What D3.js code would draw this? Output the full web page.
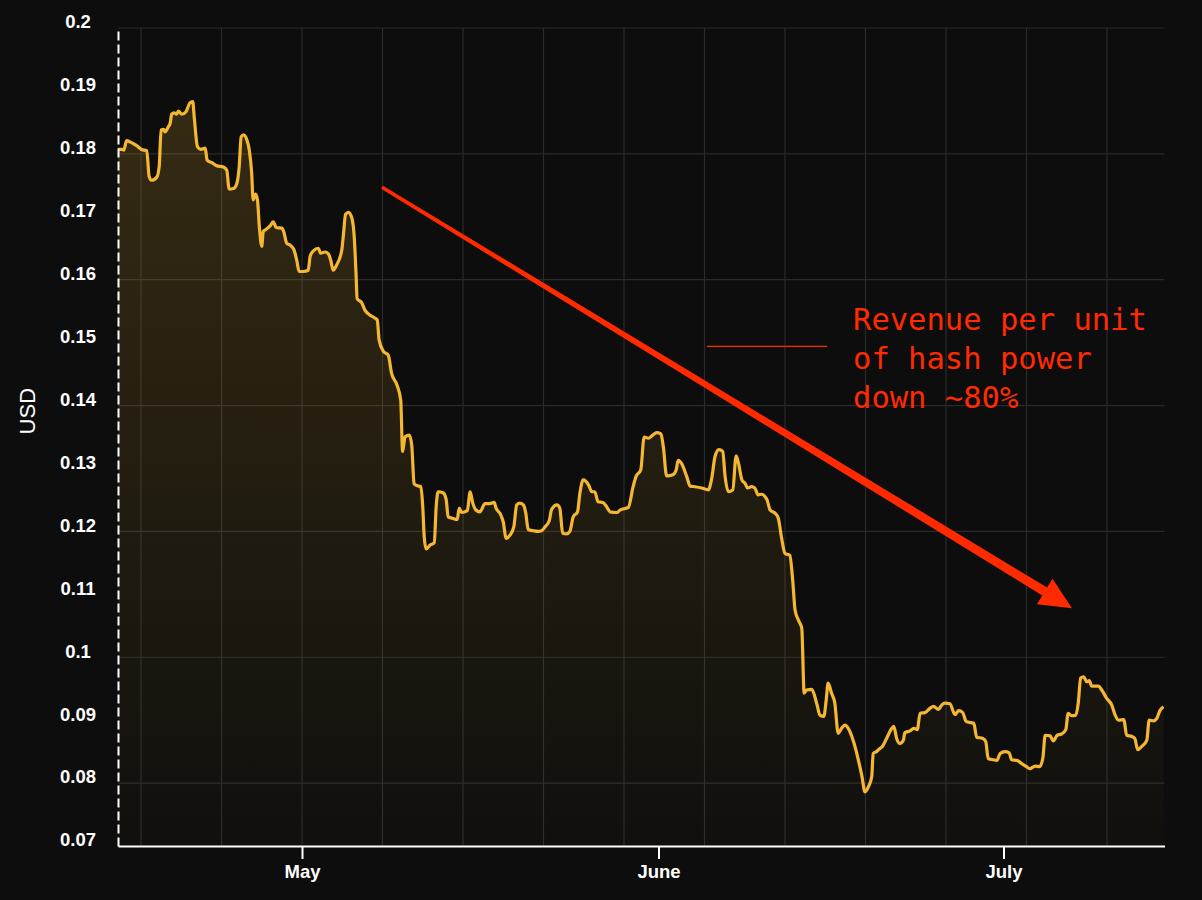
<!DOCTYPE html>
<html>
<head>
<meta charset="utf-8">
<script src="https://cdn.jsdelivr.net/npm/d3@7"></script>
<style>
  html, body { margin: 0; padding: 0; background: #0d0d0d; }
  svg { display: block; }
  .axis text { fill: #fff; font-family: "Liberation Sans", Arial, sans-serif; font-size: 18.5px; font-weight: bold; }
  .axis-title { fill: #fff; font-family: "Liberation Sans", Arial, sans-serif; font-size: 22px; }
  .grid line { stroke: #2b2b2b; stroke-width: 1.2; }
  .note { fill: #ff2a00; font-family: "DejaVu Sans Mono", monospace; font-size: 30.5px; }
</style>
</head>
<body>
<div id="chart"></div>
<script>
// revenue per unit of hash power (USD), [time, value]
const hashprice = [
  ["2022-04-15T00", 0.1807], ["2022-04-15T08", 0.1807], ["2022-04-15T12", 0.1806], ["2022-04-15T18", 0.1821],
  ["2022-04-16T01", 0.1819], ["2022-04-16T15", 0.1813], ["2022-04-17T01", 0.1807], ["2022-04-17T12", 0.1805],
  ["2022-04-17T17", 0.1764], ["2022-04-17T22", 0.1758], ["2022-04-18T09", 0.1763], ["2022-04-18T14", 0.1780],
  ["2022-04-18T18", 0.1838], ["2022-04-18T23", 0.1839], ["2022-04-19T02", 0.1835], ["2022-04-19T09", 0.1843],
  ["2022-04-19T13", 0.1849], ["2022-04-19T16", 0.1863], ["2022-04-19T21", 0.1865], ["2022-04-20T02", 0.1863],
  ["2022-04-20T06", 0.1868], ["2022-04-20T13", 0.1863], ["2022-04-20T22", 0.1867], ["2022-04-21T06", 0.1881],
  ["2022-04-21T12", 0.1883], ["2022-04-21T15", 0.1859], ["2022-04-21T22", 0.1811], ["2022-04-22T05", 0.1807],
  ["2022-04-22T14", 0.1809], ["2022-04-22T18", 0.1790], ["2022-04-23T04", 0.1786], ["2022-04-23T14", 0.1781],
  ["2022-04-24T04", 0.1779], ["2022-04-24T11", 0.1774], ["2022-04-24T16", 0.1744], ["2022-04-25T01", 0.1745],
  ["2022-04-25T08", 0.1753], ["2022-04-25T13", 0.1780], ["2022-04-25T17", 0.1827], ["2022-04-25T22", 0.1830],
  ["2022-04-26T05", 0.1822], ["2022-04-26T10", 0.1806], ["2022-04-26T15", 0.1769], ["2022-04-26T18", 0.1727],
  ["2022-04-26T23", 0.1736], ["2022-04-27T03", 0.1727], ["2022-04-27T07", 0.1684], ["2022-04-27T12", 0.1653],
  ["2022-04-27T15", 0.1676], ["2022-04-27T21", 0.1680], ["2022-04-28T05", 0.1685], ["2022-04-28T12", 0.1692],
  ["2022-04-28T18", 0.1683], ["2022-04-29T06", 0.1682], ["2022-04-29T10", 0.1676], ["2022-04-29T16", 0.1658],
  ["2022-04-29T23", 0.1655], ["2022-04-30T07", 0.1648], ["2022-04-30T13", 0.1631], ["2022-04-30T18", 0.1613],
  ["2022-05-01T03", 0.1613], ["2022-05-01T13", 0.1615], ["2022-05-01T17", 0.1637], ["2022-05-02T00", 0.1646],
  ["2022-05-02T10", 0.1650], ["2022-05-02T15", 0.1642], ["2022-05-03T00", 0.1644], ["2022-05-03T07", 0.1641],
  ["2022-05-03T12", 0.1631], ["2022-05-03T17", 0.1615], ["2022-05-04T00", 0.1623], ["2022-05-04T11", 0.1647],
  ["2022-05-04T14", 0.1668], ["2022-05-04T19", 0.1704], ["2022-05-05T01", 0.1707], ["2022-05-05T08", 0.1698],
  ["2022-05-05T13", 0.1668], ["2022-05-05T17", 0.1605], ["2022-05-05T19", 0.1570], ["2022-05-06T05", 0.1563],
  ["2022-05-06T11", 0.1552], ["2022-05-06T18", 0.1546], ["2022-05-07T08", 0.1539], ["2022-05-07T13", 0.1536],
  ["2022-05-07T17", 0.1504], ["2022-05-08T02", 0.1486], ["2022-05-08T12", 0.1480], ["2022-05-08T19", 0.1451],
  ["2022-05-09T06", 0.1433], ["2022-05-09T14", 0.1409], ["2022-05-09T18", 0.1327], ["2022-05-09T23", 0.1350],
  ["2022-05-10T08", 0.1353], ["2022-05-10T13", 0.1337], ["2022-05-10T18", 0.1276], ["2022-05-10T23", 0.1273],
  ["2022-05-11T08", 0.1271], ["2022-05-11T12", 0.1239], ["2022-05-11T15", 0.1192], ["2022-05-11T19", 0.1172],
  ["2022-05-12T03", 0.1178], ["2022-05-12T12", 0.1182], ["2022-05-12T16", 0.1239], ["2022-05-12T20", 0.1263],
  ["2022-05-13T07", 0.1261], ["2022-05-13T13", 0.1250], ["2022-05-13T17", 0.1223], ["2022-05-14T02", 0.1221],
  ["2022-05-14T12", 0.1219], ["2022-05-14T16", 0.1237], ["2022-05-14T21", 0.1230], ["2022-05-15T09", 0.1233],
  ["2022-05-15T15", 0.1263], ["2022-05-15T20", 0.1246], ["2022-05-16T03", 0.1234], ["2022-05-16T11", 0.1231],
  ["2022-05-16T22", 0.1244], ["2022-05-17T08", 0.1244], ["2022-05-17T17", 0.1246], ["2022-05-17T21", 0.1237],
  ["2022-05-18T07", 0.1226], ["2022-05-18T12", 0.1215], ["2022-05-18T18", 0.1189], ["2022-05-19T02", 0.1194],
  ["2022-05-19T10", 0.1207], ["2022-05-19T16", 0.1242], ["2022-05-19T22", 0.1245], ["2022-05-20T06", 0.1242],
  ["2022-05-20T11", 0.1229], ["2022-05-20T16", 0.1203], ["2022-05-21T03", 0.1201], ["2022-05-21T13", 0.1200],
  ["2022-05-21T20", 0.1201], ["2022-05-22T03", 0.1207], ["2022-05-22T12", 0.1217], ["2022-05-22T17", 0.1235],
  ["2022-05-23T04", 0.1242], ["2022-05-23T10", 0.1237], ["2022-05-23T16", 0.1197], ["2022-05-24T00", 0.1196],
  ["2022-05-24T07", 0.1200], ["2022-05-24T14", 0.1223], ["2022-05-24T23", 0.1231], ["2022-05-25T04", 0.1261],
  ["2022-05-25T11", 0.1282], ["2022-05-25T22", 0.1274], ["2022-05-26T05", 0.1263], ["2022-05-26T11", 0.1263],
  ["2022-05-26T18", 0.1247], ["2022-05-27T04", 0.1246], ["2022-05-27T12", 0.1239], ["2022-05-27T19", 0.1231],
  ["2022-05-28T09", 0.1230], ["2022-05-28T16", 0.1234], ["2022-05-29T09", 0.1238], ["2022-05-29T19", 0.1271],
  ["2022-05-30T01", 0.1287], ["2022-05-30T11", 0.1298], ["2022-05-30T18", 0.1350], ["2022-05-31T03", 0.1348],
  ["2022-05-31T12", 0.1353], ["2022-05-31T20", 0.1357], ["2022-06-01T05", 0.1355], ["2022-06-01T10", 0.1335],
  ["2022-06-01T17", 0.1288], ["2022-06-02T06", 0.1290], ["2022-06-02T13", 0.1298], ["2022-06-02T17", 0.1313],
  ["2022-06-03T00", 0.1308], ["2022-06-03T11", 0.1287], ["2022-06-03T18", 0.1272], ["2022-06-04T04", 0.1271],
  ["2022-06-04T18", 0.1269], ["2022-06-05T08", 0.1266], ["2022-06-05T15", 0.1284], ["2022-06-05T22", 0.1319],
  ["2022-06-06T06", 0.1330], ["2022-06-06T14", 0.1327], ["2022-06-06T19", 0.1287], ["2022-06-07T02", 0.1263],
  ["2022-06-07T11", 0.1266], ["2022-06-07T18", 0.1320], ["2022-06-07T23", 0.1308], ["2022-06-08T06", 0.1282],
  ["2022-06-08T13", 0.1276], ["2022-06-08T18", 0.1269], ["2022-06-09T02", 0.1271], ["2022-06-09T09", 0.1269],
  ["2022-06-09T16", 0.1258], ["2022-06-09T23", 0.1259], ["2022-06-10T10", 0.1251], ["2022-06-10T17", 0.1234],
  ["2022-06-11T03", 0.1229], ["2022-06-11T10", 0.1221], ["2022-06-11T17", 0.1189], ["2022-06-12T00", 0.1165],
  ["2022-06-12T10", 0.1162], ["2022-06-12T16", 0.1123], ["2022-06-12T21", 0.1075], ["2022-06-13T04", 0.1059],
  ["2022-06-13T11", 0.1046], ["2022-06-13T16", 0.0943], ["2022-06-13T21", 0.0948], ["2022-06-14T08", 0.0949],
  ["2022-06-14T18", 0.0927], ["2022-06-15T01", 0.0908], ["2022-06-15T09", 0.0906], ["2022-06-15T14", 0.0932],
  ["2022-06-15T18", 0.0959], ["2022-06-16T01", 0.0943], ["2022-06-16T08", 0.0927], ["2022-06-16T15", 0.0879],
  ["2022-06-16T22", 0.0887], ["2022-06-17T05", 0.0892], ["2022-06-17T12", 0.0887], ["2022-06-17T23", 0.0866],
  ["2022-06-18T09", 0.0837], ["2022-06-18T16", 0.0813], ["2022-06-18T23", 0.0786], ["2022-06-19T06", 0.0794],
  ["2022-06-19T13", 0.0810], ["2022-06-19T16", 0.0847], ["2022-06-19T23", 0.0850], ["2022-06-20T06", 0.0855],
  ["2022-06-20T12", 0.0859], ["2022-06-20T20", 0.0871], ["2022-06-21T07", 0.0887], ["2022-06-21T11", 0.0890],
  ["2022-06-21T17", 0.0871], ["2022-06-22T00", 0.0863], ["2022-06-22T07", 0.0868], ["2022-06-22T10", 0.0880],
  ["2022-06-22T21", 0.0883], ["2022-06-23T05", 0.0887], ["2022-06-23T12", 0.0885], ["2022-06-23T18", 0.0911],
  ["2022-06-24T04", 0.0912], ["2022-06-24T15", 0.0919], ["2022-06-24T22", 0.0922], ["2022-06-25T08", 0.0917],
  ["2022-06-25T15", 0.0924], ["2022-06-25T22", 0.0927], ["2022-06-26T08", 0.0926], ["2022-06-26T19", 0.0909],
  ["2022-06-27T02", 0.0915], ["2022-06-27T11", 0.0912], ["2022-06-27T18", 0.0898], ["2022-06-28T04", 0.0896],
  ["2022-06-28T10", 0.0895], ["2022-06-28T16", 0.0873], ["2022-06-29T05", 0.0871], ["2022-06-29T11", 0.0866],
  ["2022-06-29T16", 0.0839], ["2022-06-30T03", 0.0837], ["2022-06-30T10", 0.0836], ["2022-06-30T17", 0.0847],
  ["2022-07-01T03", 0.0850], ["2022-07-01T12", 0.0848], ["2022-07-01T17", 0.0837], ["2022-07-02T04", 0.0836],
  ["2022-07-02T14", 0.0831], ["2022-07-03T00", 0.0826], ["2022-07-03T07", 0.0823], ["2022-07-03T18", 0.0827],
  ["2022-07-04T03", 0.0826], ["2022-07-04T10", 0.0839], ["2022-07-04T15", 0.0876], ["2022-07-05T01", 0.0875],
  ["2022-07-05T08", 0.0867], ["2022-07-05T16", 0.0876], ["2022-07-06T01", 0.0878], ["2022-07-06T10", 0.0885],
  ["2022-07-06T15", 0.0911], ["2022-07-06T22", 0.0907], ["2022-07-07T07", 0.0908], ["2022-07-07T12", 0.0927],
  ["2022-07-07T17", 0.0967], ["2022-07-07T23", 0.0969], ["2022-07-08T06", 0.0961], ["2022-07-08T11", 0.0963],
  ["2022-07-08T16", 0.0954], ["2022-07-09T06", 0.0954], ["2022-07-09T13", 0.0948], ["2022-07-09T23", 0.0935],
  ["2022-07-10T10", 0.0924], ["2022-07-10T17", 0.0908], ["2022-07-11T00", 0.0900], ["2022-07-11T11", 0.0901],
  ["2022-07-11T17", 0.0876], ["2022-07-12T04", 0.0874], ["2022-07-12T10", 0.0871], ["2022-07-12T16", 0.0853],
  ["2022-07-13T00", 0.0858], ["2022-07-13T11", 0.0868], ["2022-07-13T16", 0.0900], ["2022-07-14T01", 0.0899],
  ["2022-07-14T08", 0.0903], ["2022-07-14T15", 0.0916], ["2022-07-14T22", 0.0921]
];

const xDomain = ["2022-04-15T00", "2022-07-15T00"];
const yDomain = [0.07, 0.2];
const yTickValues = [0.07, 0.08, 0.09, 0.1, 0.11, 0.12, 0.13, 0.14, 0.15, 0.16, 0.17, 0.18, 0.19, 0.2];
const yGridValues = [0.08, 0.1, 0.12, 0.14, 0.16, 0.18, 0.2];
const monthTicks = ["2022-05-01T00", "2022-06-01T00", "2022-07-01T00"];

// annotation, in data coordinates
const arrowFrom = ["2022-05-07T23", 0.1747];
const arrowTo = ["2022-07-06T23", 0.1078];
const leaderLine = [["2022-06-05T05", 0.1494], ["2022-06-15T16", 0.1494]];
const noteAnchor = ["2022-06-17T22", 0.1520];
const noteLines = ["Revenue per unit", "of hash power", "down ~80%"];
const axisTitleValue = 0.1391;

const parseTime = d3.timeParse("%Y-%m-%dT%H");

class HashpriceChart {

  constructor(_config, _data) {
    this.config = {
      parentElement: _config.parentElement,
      containerWidth: 1202,
      containerHeight: 900,
      margin: {top: 28, right: 37.5, bottom: 54, left: 118},
      lineColor: "#f5b731",
      noteColor: "#ff2a00"
    };
    this.data = _data.map(d => ({date: parseTime(d[0]), value: d[1]}));
    this.initVis();
  }

  initVis() {
    let vis = this;

    vis.width = vis.config.containerWidth - vis.config.margin.left - vis.config.margin.right;
    vis.height = vis.config.containerHeight - vis.config.margin.top - vis.config.margin.bottom;

    vis.xScale = d3.scaleTime()
        .domain(xDomain.map(parseTime))
        .range([0, vis.width]);

    vis.yScale = d3.scaleLinear()
        .domain(yDomain)
        .range([vis.height, 0]);

    vis.svg = d3.select(vis.config.parentElement).append("svg")
        .attr("width", vis.config.containerWidth)
        .attr("height", vis.config.containerHeight);

    vis.svg.append("rect")
        .attr("width", vis.config.containerWidth)
        .attr("height", vis.config.containerHeight)
        .attr("fill", "#0d0d0d");

    vis.chart = vis.svg.append("g")
        .attr("transform", `translate(${vis.config.margin.left},${vis.config.margin.top})`);

    vis.renderGrid();
    vis.renderSeries();
    vis.renderAxes();
    vis.renderAnnotation();
  }

  renderGrid() {
    let vis = this;
    const grid = vis.chart.append("g").attr("class", "grid");

    grid.selectAll(".h-grid")
        .data(yGridValues)
      .join("line")
        .attr("class", "h-grid")
        .attr("x1", 0)
        .attr("x2", vis.width)
        .attr("y1", d => vis.yScale(d))
        .attr("y2", d => vis.yScale(d));

    // weekly (Sunday) vertical lines
    const weeks = d3.timeWeek.range(...vis.xScale.domain());
    grid.selectAll(".v-grid")
        .data(weeks)
      .join("line")
        .attr("class", "v-grid")
        .attr("x1", d => vis.xScale(d))
        .attr("x2", d => vis.xScale(d))
        .attr("y1", 0)
        .attr("y2", vis.height);
  }

  renderSeries() {
    let vis = this;

    const gradient = vis.svg.append("defs").append("linearGradient")
        .attr("id", "area-gradient")
        .attr("gradientUnits", "userSpaceOnUse")
        .attr("x1", 0).attr("y1", 0)
        .attr("x2", 0).attr("y2", vis.height);
    gradient.append("stop").attr("offset", "0%")
        .attr("stop-color", vis.config.lineColor).attr("stop-opacity", 0.19);
    gradient.append("stop").attr("offset", "100%")
        .attr("stop-color", vis.config.lineColor).attr("stop-opacity", 0.015);

    const area = d3.area()
        .x(d => vis.xScale(d.date))
        .y0(vis.height)
        .y1(d => vis.yScale(d.value))
        .curve(d3.curveMonotoneX);

    const line = d3.line()
        .x(d => vis.xScale(d.date))
        .y(d => vis.yScale(d.value))
        .curve(d3.curveMonotoneX);

    vis.chart.append("path")
        .datum(vis.data)
        .attr("fill", "url(#area-gradient)")
        .attr("d", area);

    vis.chart.append("path")
        .datum(vis.data)
        .attr("fill", "none")
        .attr("stroke", vis.config.lineColor)
        .attr("stroke-width", 3.2)
        .attr("stroke-linejoin", "round")
        .attr("d", line);
  }

  renderAxes() {
    let vis = this;

    const xAxis = d3.axisBottom(vis.xScale)
        .tickValues(monthTicks.map(parseTime))
        .tickFormat(d3.timeFormat("%B"))
        .tickSize(13)
        .tickSizeOuter(0)
        .tickPadding(6);

    const yAxis = d3.axisLeft(vis.yScale)
        .tickValues(yTickValues)
        .tickFormat(d3.format("~g"))
        .tickSize(0)
        .tickSizeOuter(0);

    const xAxisG = vis.chart.append("g")
        .attr("class", "axis x-axis")
        .attr("transform", `translate(0,${vis.height})`)
        .call(xAxis);
    xAxisG.select(".domain").attr("stroke", "#fff").attr("stroke-width", 2);
    xAxisG.selectAll(".tick line").attr("stroke", "#fff").attr("stroke-width", 2);

    const yAxisG = vis.chart.append("g")
        .attr("class", "axis y-axis")
        .call(yAxis);
    yAxisG.select(".domain")
        .attr("stroke", "#fff")
        .attr("stroke-width", 2)
        .attr("stroke-dasharray", "9,4");
    yAxisG.selectAll(".tick text")
        .attr("x", -40)
        .attr("y", -6)
        .attr("text-anchor", "middle");

    vis.chart.append("text")
        .attr("class", "axis-title")
        .attr("transform", `translate(-83.5,${vis.yScale(axisTitleValue)})rotate(-90)`)
        .attr("text-anchor", "middle")
        .text("USD");
  }

  renderAnnotation() {
    let vis = this;
    const px = p => [vis.xScale(parseTime(p[0])), vis.yScale(p[1])];

    // tapering arrow
    const [sx, sy] = px(arrowFrom);
    const [ex, ey] = px(arrowTo);
    const len = Math.hypot(ex - sx, ey - sy);
    const ux = (ex - sx) / len, uy = (ey - sy) / len;
    const nx = -uy, ny = ux;
    const headLen = 32, headHalf = 15, w0 = 1.8, w1 = 4.6;
    const bx = ex - ux * headLen, by = ey - uy * headLen;
    const pts = [
      [sx + nx * w0, sy + ny * w0],
      [bx + nx * w1, by + ny * w1],
      [bx + nx * headHalf, by + ny * headHalf],
      [ex, ey],
      [bx - nx * headHalf, by - ny * headHalf],
      [bx - nx * w1, by - ny * w1],
      [sx - nx * w0, sy - ny * w0]
    ];
    vis.chart.append("polygon")
        .attr("points", pts.map(p => p.join(",")).join(" "))
        .attr("fill", vis.config.noteColor);

    vis.chart.append("line")
        .attr("x1", px(leaderLine[0])[0])
        .attr("y1", px(leaderLine[0])[1])
        .attr("x2", px(leaderLine[1])[0])
        .attr("y2", px(leaderLine[1])[1])
        .attr("stroke", vis.config.noteColor)
        .attr("stroke-width", 1.4);

    const [tx, ty] = px(noteAnchor);
    vis.chart.append("text")
        .attr("class", "note")
        .selectAll("tspan")
        .data(noteLines)
      .join("tspan")
        .attr("x", tx)
        .attr("y", (d, i) => ty + i * 39)
        .text(d => d);
  }
}

new HashpriceChart({parentElement: "#chart"}, hashprice);
</script>
</body>
</html>
